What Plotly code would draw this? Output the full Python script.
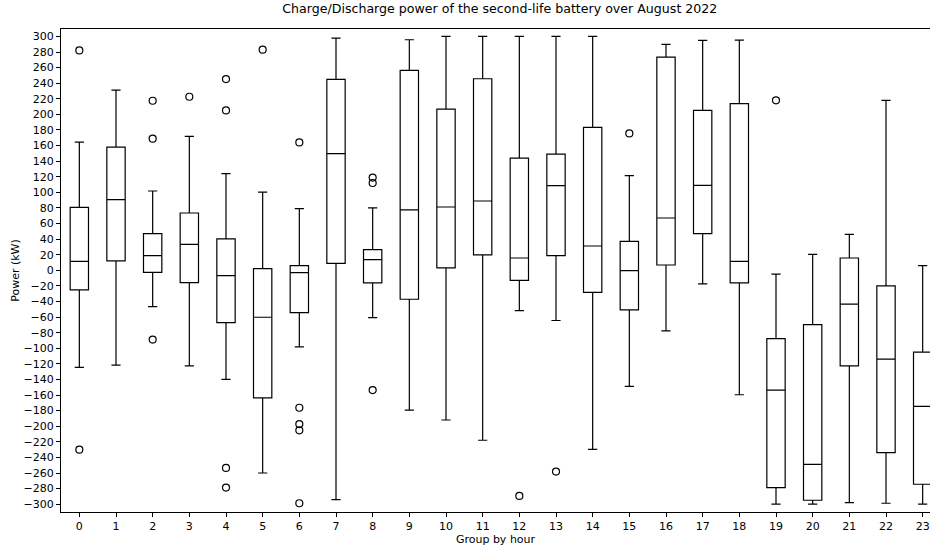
import plotly.graph_objects as go

hours = list(range(24))
upper_whisker = [164.5, 231, 101.7, 171.8, 124, 100.4, 79, 297.9, 80, 295.7, 300, 300,
                 300, 300, 300, 121.4, 289.7, 294.9, 295.3, -4.9, 20.5, 46.2, 218, 6]
q3 = [80.8, 158, 47, 73.5, 40.2, 2.1, 6, 244.9, 26.5, 256.4, 206.8, 245.7,
      144, 149, 183.3, 37.2, 273.5, 205.1, 213.7, -87.5, -69.6, 15.8, -20, -105]
median = [11.5, 90.6, 18.8, 33.3, -6.8, -60.2, -3, 149.6, 13.7, 77.4, 81.2, 88.9,
          15.8, 108.5, 31.2, -0.4, 67.1, 109, 11.5, -153.6, -248.8, -43.5, -114, -174.6]
q1 = [-25, 12, -2.6, -15.8, -67, -163.5, -54.2, 9, -16.2, -37.1, 3, 19.7,
      -13, 18.8, -28.2, -50.8, 6.8, 47, -16.2, -278.7, -294.9, -122.5, -233.9, -274.4]
lower_whisker = [-124.6, -121.6, -46.5, -122.5, -140, -260, -98.2, -294, -60.6, -179.3, -192, -218,
                 -51.6, -64.4, -229.6, -149, -77.7, -17.5, -159.6, -300, -300, -297.9, -298.8, -300]

outlier_hour = [0, 0, 2, 2, 2, 3, 4, 4, 4, 4, 5, 6, 6, 6, 6, 6, 8, 8, 8, 12, 13, 15, 19]
outlier_value = [282, -230, 217.5, 168.8, -88.8, 222.6, 245.3, 205, -253.5, -278.7, 283,
                 164, -176.3, -197.2, -205.3, -298.8, 119, 112, -153.6, -289.4, -258.2, 175.6, 218]

ytick_vals = list(range(-300, 301, 20))

fig = go.Figure()
fig.add_trace(go.Box(
    x=hours, q1=q1, median=median, q3=q3,
    lowerfence=lower_whisker, upperfence=upper_whisker,
    width=0.5, whiskerwidth=0.5, boxpoints=False,
    line=dict(color="black", width=1.2),
    fillcolor="rgba(0,0,0,0)", showlegend=False,
))
fig.add_trace(go.Scatter(
    x=outlier_hour, y=outlier_value, mode="markers",
    marker=dict(symbol="circle-open", size=7, color="black", line=dict(width=1.2)),
    showlegend=False,
))

font = "DejaVu Sans"
fig.update_layout(
    width=930, height=546,
    margin=dict(l=61, r=0, t=29, b=34, autoexpand=False),
    plot_bgcolor="white", paper_bgcolor="white",
    font=dict(family=font, size=11, color="black"),
    title=dict(text="Charge/Discharge power of the second-life battery over August 2022",
               x=0.505, xref="paper", xanchor="center", y=0.984, yanchor="middle",
               font=dict(family=font, size=12.6, color="black")),
    xaxis=dict(range=[-0.5, 23.2], tickmode="array", tickvals=hours,
               ticktext=[str(h) for h in hours], automargin=False,
               showgrid=False, zeroline=False, showline=True, linecolor="black", linewidth=1,
               mirror=True, ticks="outside", ticklen=4, tickcolor="black",
               title=dict(text="Group by hour", font=dict(size=11), standoff=4)),
    yaxis=dict(range=[-310, 309.5], tickmode="array", tickvals=ytick_vals, automargin=False,
               showgrid=False, zeroline=False, showline=True, linecolor="black", linewidth=1,
               mirror=False, ticks="outside", ticklen=4, tickcolor="black",
               title=dict(text="Power (kW)", font=dict(size=11), standoff=1)),
)
fig.write_html("out.html",
               config={"displayModeBar": False},
               post_script="document.body.style.margin='0';document.body.style.overflow='hidden';")
